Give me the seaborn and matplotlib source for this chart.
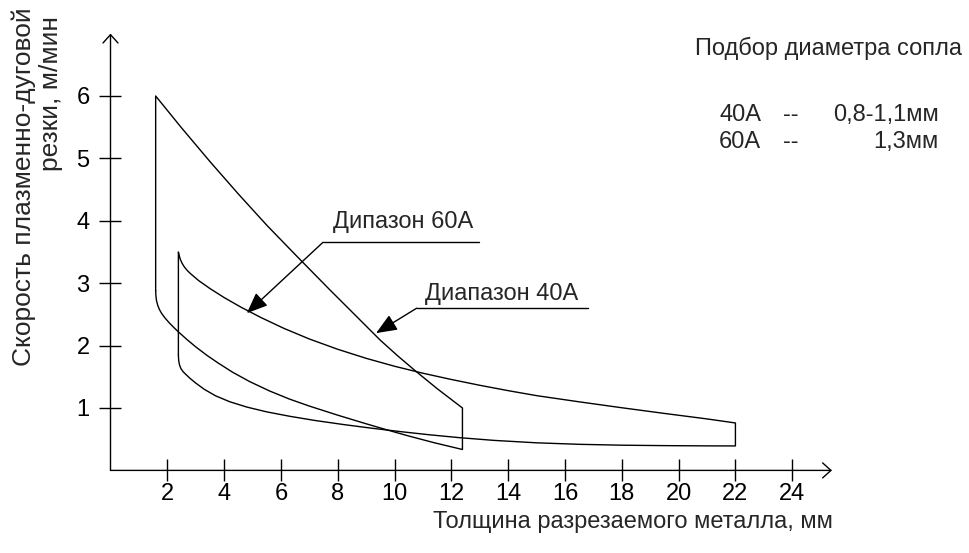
import numpy as np
import pandas as pd
import seaborn as sns
import matplotlib.pyplot as plt

# 60A range: upper and lower edges (thickness, mm -> speed, m/min)
x60_top = [1.59, 2.5, 3.5, 4.5, 5.5, 6.5, 7.73, 8.6, 9.49, 10.1, 10.72, 11.5, 12.39]
y60_top = [6.0, 5.49, 4.95, 4.43, 3.93, 3.46, 2.89, 2.495, 2.09, 1.84, 1.60, 1.31, 1.0]
x60_bot = [1.59, 1.60, 1.62, 1.66, 1.72, 1.80, 1.92, 2.08, 2.25, 2.39, 2.7, 3.0, 3.4, 3.8,
           4.3, 4.9, 5.6, 6.3, 7.0, 8.0, 9.0, 9.72, 10.5, 11.4, 12.39]
y60_bot = [2.88, 2.79, 2.72, 2.65, 2.58, 2.516, 2.442, 2.359, 2.281, 2.22, 2.094, 1.98, 1.842,
           1.718, 1.573, 1.423, 1.273, 1.143, 1.031, 0.885, 0.747, 0.651, 0.551, 0.443, 0.335]

# 40A range
x40_top = [2.39, 2.42, 2.46, 2.52, 2.6, 2.7, 2.8, 3.1, 3.5, 4.0, 4.6, 5.3, 6.1, 7.0, 8.0,
           9.0, 10.0, 11.0, 12.0, 13.0, 14.0, 15.0, 16.5, 18.0, 19.5, 21.0, 22.0]
y40_top = [3.50, 3.44, 3.38, 3.32, 3.26, 3.205, 3.16, 3.043, 2.915, 2.77, 2.614, 2.449, 2.277,
           2.106, 1.941, 1.796, 1.669, 1.557, 1.457, 1.364, 1.278, 1.198, 1.099, 1.004, 0.913,
           0.825, 0.76]
x40_bot = [2.39, 2.40, 2.43, 2.48, 2.56, 2.66, 2.8, 3.0, 3.3, 3.7, 4.2, 4.8, 5.5, 6.3, 7.2,
           8.2, 9.2, 10.2, 11.2, 12.3, 13.5, 15.0, 16.5, 18.0, 19.5, 21.0, 22.0]
y40_bot = [1.85, 1.76, 1.69, 1.63, 1.58, 1.535, 1.475, 1.40, 1.30, 1.195, 1.10, 1.015, 0.938,
           0.868, 0.80, 0.735, 0.676, 0.622, 0.572, 0.524, 0.481, 0.442, 0.418, 0.404, 0.397,
           0.393, 0.392]

x_ticks = [2, 4, 6, 8, 10, 12, 14, 16, 18, 20, 22, 24]
y_ticks = [1, 2, 3, 4, 5, 6]

range_names = ['Дипазон 60A', 'Диапазон 40A']
nozzle_rows = [('40A', '--', '0,8-1,1мм'), ('60A', '--', '1,3мм')]


def outline(x_top, y_top, x_bot, y_bot, name):
    # closed contour: left edge, lower curve, right edge, upper curve back
    xs = x_bot + x_top[::-1]
    ys = y_bot + y_top[::-1]
    xs = xs + [xs[0]]
    ys = ys + [ys[0]]
    return pd.DataFrame({'x': xs, 'y': ys, 'range': name})


df = pd.concat([outline(x60_top, y60_top, x60_bot, y60_bot, '60A'),
                outline(x40_top, y40_top, x40_bot, y40_bot, '40A')], ignore_index=True)

sns.set_theme(style='white')
plt.rcParams['font.family'] = ['Liberation Sans', 'DejaVu Sans']
FS = 17
LW = 1.0

fig = plt.figure(figsize=(9.7, 5.53), dpi=100)
W, H = 970, 553
ax = fig.add_axes([110.5 / W, (H - 470.4) / H, (832 - 110.5) / W, (470.4 - 33.6) / H])

sns.lineplot(data=df, x='x', y='y', units='range', estimator=None, sort=False,
             color='black', linewidth=LW, ax=ax, legend=False)

ax.set_xlim(0, 25.4)
ax.set_ylim(0, 7.0)
for s in ax.spines.values():
    s.set_visible(False)

# axes with open arrow heads
arrow_kw = dict(arrowstyle='->,head_length=0.5,head_width=0.45', color='black', lw=LW,
                mutation_scale=12, shrinkA=0, shrinkB=0)
ax.annotate('', xy=(25.4, 0), xytext=(0, 0), arrowprops=arrow_kw, annotation_clip=False)
ax.annotate('', xy=(0, 7.0), xytext=(0, 0), arrowprops=arrow_kw, annotation_clip=False)

ax.set_xticks(x_ticks)
ax.set_yticks(y_ticks)
ax.tick_params(axis='both', direction='inout', length=16, width=LW, colors='black',
               labelsize=FS, bottom=True, left=True)
ax.tick_params(axis='x', pad=1)
ax.tick_params(axis='y', pad=7)
ax.set_xlabel('')
ax.set_ylabel('')

# leader lines with filled arrow heads
lead_kw = dict(arrowstyle='-|>,head_length=0.4,head_width=0.165', color='black', lw=LW,
               mutation_scale=32, shrinkA=0, shrinkB=0)
ax.plot([7.48, 12.98], [3.655, 3.655], color='black', lw=LW)
ax.annotate('', xy=(4.8, 2.52), xytext=(7.48, 3.655), arrowprops=lead_kw)
ax.text(7.82, 3.88, range_names[0], fontsize=FS, ha='left', va='baseline')

ax.plot([10.78, 16.8], [2.6, 2.6], color='black', lw=LW)
ax.annotate('', xy=(9.35, 2.2), xytext=(10.78, 2.6), arrowprops=lead_kw)
ax.text(11.07, 2.73, range_names[1], fontsize=FS, ha='left', va='baseline')


def px(x, y):
    return x / W, 1 - y / H


# nozzle diameter note
fig.text(*px(695, 55), 'Подбор диаметра сопла', fontsize=FS, ha='left', va='baseline')
for i, (amp, dash, dia) in enumerate(nozzle_rows):
    yb = 121 + 27 * i
    fig.text(*px(719, yb), amp, fontsize=FS, ha='left', va='baseline')
    fig.text(*px(783, yb), dash, fontsize=FS, ha='left', va='baseline')
    fig.text(*px(939, yb), dia, fontsize=FS, ha='right', va='baseline')

# axis titles
fig.text(*px(833, 528), 'Толщина разрезаемого металла, мм', fontsize=FS,
         ha='right', va='baseline')
fig.text(*px(31, 7), 'Скорость плазменно-дуговой', fontsize=19, rotation=90,
         rotation_mode='anchor', ha='right', va='baseline')
fig.text(*px(58, 16), 'резки, м/мин', fontsize=19, rotation=90,
         rotation_mode='anchor', ha='right', va='baseline')

fig.savefig('out.png', dpi=100)
